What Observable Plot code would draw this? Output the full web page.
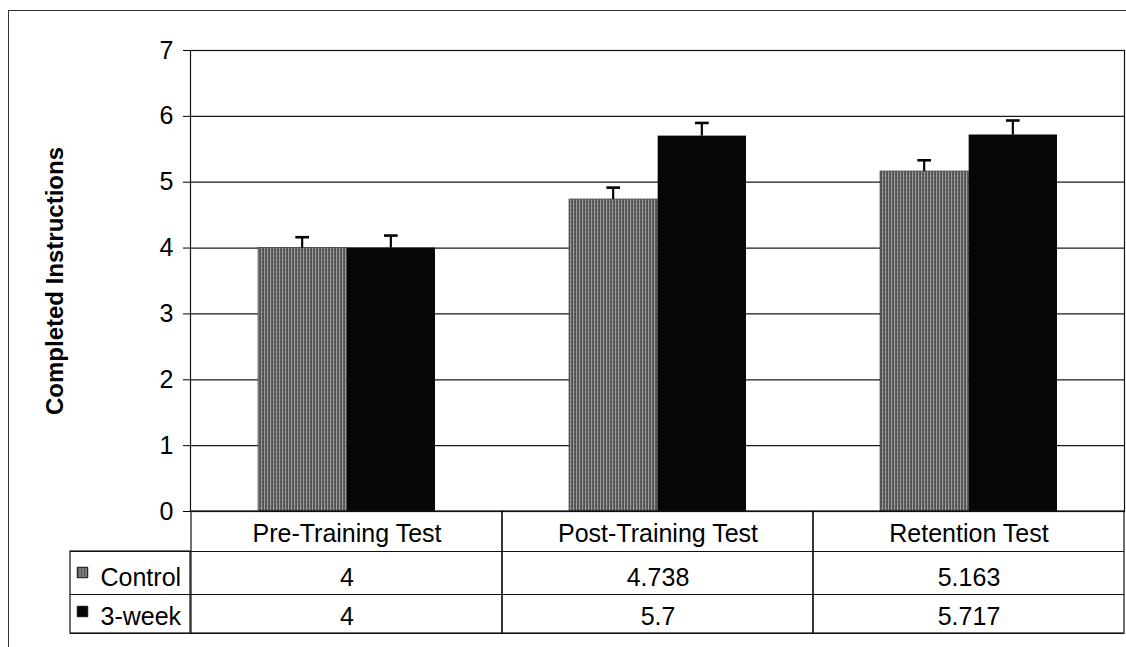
<!DOCTYPE html>
<html>
<head>
<meta charset="utf-8">
<script src="https://cdn.jsdelivr.net/npm/d3@7"></script>
<script src="https://cdn.jsdelivr.net/npm/@observablehq/plot@0.6"></script>
<style>
  html, body { margin: 0; padding: 0; background: #fff; }
  #wrap { position: relative; width: 1126px; height: 647px; overflow: hidden; }
  #border { position: absolute; left: 8px; top: 10px; width: 1200px; height: 700px;
            border-left: 1px solid #333; border-top: 1px solid #333; pointer-events: none; }
  svg { display: block; }
</style>
</head>
<body>
<div id="wrap"><div id="border"></div></div>
<script>
// ---- data ----
const categories = ["Pre-Training Test", "Post-Training Test", "Retention Test"];
const seriesNames = ["Control", "3-week"];
const controlValues = [4, 4.738, 5.163];
const weekValues = [4, 5.7, 5.717];
const controlErrors = [0.165, 0.18, 0.17];
const weekErrors = [0.19, 0.2, 0.22];
const yTicks = [0, 1, 2, 3, 4, 5, 6, 7];
const yLabel = "Completed Instructions";

// ---- layout ----
const W = 1126, H = 647, ML = 190, MR = 2, MT = 50, MB = 136;
const BW = (W - ML - MR) / categories.length;
const barW = 88.67, groupLeft = 67;
const font = "'Liberation Sans', Arial, Helvetica, sans-serif";
const FS = 25;

const rows = [];
categories.forEach((c, i) => {
  rows.push({category: c, series: "Control", value: controlValues[i], err: controlErrors[i]});
  rows.push({category: c, series: "3-week", value: weekValues[i], err: weekErrors[i]});
});
const ctrl = rows.filter(d => d.series === "Control");
const week = rows.filter(d => d.series === "3-week");

const fills = {"Control": "url(#ctrlPat)", "3-week": "#060606"};
const barInset = s => ({insetLeft: groupLeft + s * barW, insetRight: BW - groupLeft - (s + 1) * barW});
const center = s => groupLeft + (s + 0.5) * barW;
const stemInset = s => ({insetLeft: center(s) - 1.25, insetRight: BW - center(s) - 1.25});
const capInset = s => ({insetLeft: center(s) - 7, insetRight: BW - center(s) - 7});

const rowDy = [66, 105];
const lineDy = [40, 83, 122];

const marks = [
  Plot.ruleY(yTicks.filter(t => t > 0), {y: d => d, stroke: "#1a1a1a", strokeWidth: 1.2}),
  // bars
  Plot.barY(ctrl, {x: "category", y: "value", fill: fills["Control"], stroke: "#333", strokeWidth: 0.6, ...barInset(0)}),
  Plot.barY(week, {x: "category", y: "value", fill: fills["3-week"], ...barInset(1)}),
  // error bars (upper only)
  Plot.barY(ctrl, {x: "category", y1: "value", y2: d => d.value + d.err, fill: "#000", ...stemInset(0)}),
  Plot.barY(week, {x: "category", y1: "value", y2: d => d.value + d.err, fill: "#000", ...stemInset(1)}),
  Plot.tickY(ctrl, {x: "category", y: d => d.value + d.err, stroke: "#000", strokeWidth: 2.6, ...capInset(0)}),
  Plot.tickY(week, {x: "category", y: d => d.value + d.err, stroke: "#000", strokeWidth: 2.6, ...capInset(1)}),
  Plot.frame({stroke: "#111", strokeWidth: 1.2}),
  // axes
  Plot.axisY({ticks: yTicks, tickSize: 7, tickPadding: 10, label: null, tickFormat: d => String(d), fontSize: FS}),
  Plot.axisX({tickSize: 0, tickPadding: 13, label: null, fontSize: FS}),
  Plot.text([yLabel], {frameAnchor: "left", dx: -135, rotate: -90, textAnchor: "middle", fontWeight: "bold", fontSize: 24, text: d => d}),
  // data table: column cells
  Plot.barY(categories, {x: d => d, y1: 0, y2: 0, insetTop: 0, insetBottom: -lineDy[2], fill: "none", stroke: "#111", strokeWidth: 1.2}),
  // row header box
  Plot.rect([0], {y1: 0, y2: 0, insetLeft: -(ML - 70), insetRight: W - ML - MR, insetTop: lineDy[0], insetBottom: -lineDy[2], fill: "none", stroke: "#111", strokeWidth: 1.2}),
  // horizontal table lines
  ...lineDy.map(dy => Plot.ruleY([0], {dy, insetLeft: -(ML - 70), stroke: "#111", strokeWidth: 1.2})),
  // table values
  Plot.text(ctrl, {x: "category", frameAnchor: "bottom", dy: rowDy[0], text: d => String(d.value), fontSize: FS, lineAnchor: "middle"}),
  Plot.text(week, {x: "category", frameAnchor: "bottom", dy: rowDy[1], text: d => String(d.value), fontSize: FS, lineAnchor: "middle"})
];
// row labels with swatches
seriesNames.forEach((s, i) => {
  marks.push(Plot.text([s], {frameAnchor: "bottom-left", dx: -90, dy: rowDy[i], text: d => d, fontSize: FS, textAnchor: "start", lineAnchor: "middle"}));
  marks.push(Plot.dot([s], {frameAnchor: "bottom-left", dx: -108, dy: rowDy[i] - 5, symbol: "square", r: 5.9, fill: fills[s], stroke: "#111", strokeWidth: 1}));
});

const svg = Plot.plot({
  width: W, height: H,
  marginLeft: ML, marginRight: MR, marginTop: MT, marginBottom: MB,
  style: {fontFamily: font, fontSize: FS + "px", color: "#000", background: "transparent", overflow: "visible"},
  x: {domain: categories, padding: 0},
  y: {domain: [0, 7]},
  marks
});

d3.select(svg).insert("defs", ":first-child").html(`
  <pattern id="ctrlPat" patternUnits="userSpaceOnUse" width="3" height="4">
    <rect width="3" height="4" fill="#5e5e5e"/>
    <rect x="0" width="1" height="4" fill="#9c9c9c"/>
    <rect x="2" y="1" width="1" height="2" fill="#464646"/>
  </pattern>`);

document.getElementById("wrap").insertBefore(svg, document.getElementById("border"));
</script>
</body>
</html>
